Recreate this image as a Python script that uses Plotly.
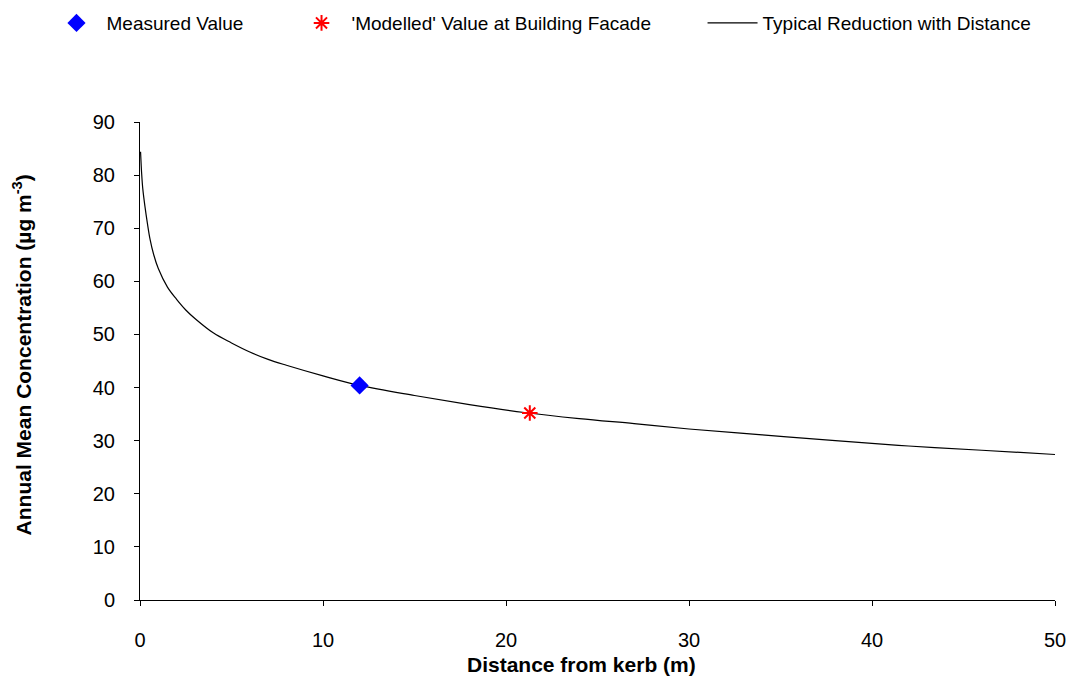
import plotly.graph_objects as go

# Typical reduction with distance
curve_x = [0.03, 0.06, 0.09, 0.15, 0.27, 0.4, 0.55, 0.75, 1.0, 1.5, 2.0, 2.5, 3.0, 4.0, 5.0,
           6.0, 7.0, 8.0, 10.0, 12.0, 15.0, 18.0, 21.0, 24.0, 27.0, 30.0, 34.0, 38.0,
           42.0, 46.0, 50.0]
curve_y = [84.4, 82.2, 80.3, 77.5, 74.1, 71.0, 67.9, 65.0, 62.4, 58.9, 56.6, 54.6, 53.0, 50.3, 48.4,
           46.7, 45.3, 44.2, 42.2, 40.4, 38.5, 36.8, 35.3, 34.15, 33.2, 32.2, 31.1, 30.0,
           29.0, 28.2, 27.4]

measured_x = [12.0]
measured_y = [40.4]

modelled_x = [21.3]
modelled_y = [35.2]

x_ticks = [0, 10, 20, 30, 40, 50]
y_ticks = [0, 10, 20, 30, 40, 50, 60, 70, 80, 90]

x_title = "Distance from kerb (m)"
y_title = "Annual Mean Concentration (µg m<sup>-3</sup>)"

FONT = "Liberation Sans, Arial, sans-serif"

fig = go.Figure()
fig.add_trace(go.Scatter(
    x=curve_x, y=curve_y, mode="lines", name="Typical Reduction with Distance",
    line=dict(color="black", width=1.2, shape="spline", smoothing=1.0),
    legend="legend3",
))
fig.add_trace(go.Scatter(
    x=measured_x, y=measured_y, mode="markers", name="Measured Value",
    marker=dict(symbol="diamond", size=14, color="#0000FF", line=dict(width=0)),
    legend="legend",
))
fig.add_trace(go.Scatter(
    x=modelled_x, y=modelled_y, mode="markers", name="'Modelled' Value at Building Facade",
    marker=dict(symbol="asterisk-open", size=13, color="#FF0000", line=dict(width=2, color="#FF0000")),
    legend="legend2",
))

legend_common = dict(
    orientation="h", xanchor="left", yanchor="middle", y=1.207,
    font=dict(family=FONT, size=19, color="black"),
    itemwidth=50, bgcolor="rgba(0,0,0,0)", borderwidth=0,
)

fig.update_layout(
    width=1070, height=679,
    margin=dict(l=140, r=15, t=122, b=79, autoexpand=False),
    paper_bgcolor="white", plot_bgcolor="white",
    font=dict(family=FONT, size=20, color="black"),
    showlegend=True,
    legend=dict(x=-0.1022, **legend_common),
    legend2=dict(x=0.1656, **legend_common),
    legend3=dict(x=0.6148, **legend_common),
    xaxis=dict(
        range=[0, 50], tickvals=x_ticks, ticktext=[str(v) for v in x_ticks],
        showgrid=False, zeroline=False, automargin=False,
        showline=True, linecolor="black", linewidth=1,
        ticks="outside", ticklen=5, tickcolor="black",
        ticklabelstandoff=17,
        tickfont=dict(family=FONT, size=20),
    ),
    yaxis=dict(
        range=[0, 90], tickvals=y_ticks, ticktext=[str(v) for v in y_ticks],
        showgrid=False, zeroline=False, automargin=False,
        showline=True, linecolor="black", linewidth=1,
        ticks="outside", ticklen=5, tickcolor="black",
        ticklabelstandoff=15,
        tickfont=dict(family=FONT, size=20),
    ),
    annotations=[
        dict(text="<b>" + x_title + "</b>", xref="paper", yref="paper",
             x=0.482, y=-0.134, xanchor="center", yanchor="middle",
             showarrow=False, font=dict(family=FONT, size=21, color="black")),
        dict(text="<b>" + y_title + "</b>", xref="paper", yref="paper",
             x=-0.128, y=0.5136, xanchor="center", yanchor="middle", textangle=-90,
             showarrow=False, font=dict(family=FONT, size=21, color="black")),
    ],
)

fig.write_html("out.html")
